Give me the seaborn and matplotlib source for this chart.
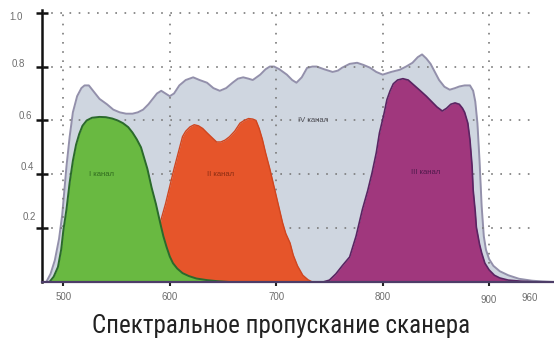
import matplotlib
matplotlib.use("Agg")
import matplotlib.pyplot as plt
from matplotlib import font_manager
import pandas as pd
import seaborn as sns

# Relative transmission of the scanner channels vs wavelength (nm)
ch4_nm = [480, 484, 488, 492, 496, 499, 503, 506, 509, 513, 517, 520, 524, 528, 534,
          541, 547, 553, 559, 565, 570, 575, 580, 584, 588, 592, 596, 600, 604, 609,
          615, 622, 628, 635, 641, 647, 653, 659, 664, 669, 674, 678, 685, 690, 694,
          698, 703, 710, 715, 719, 724, 729, 734, 738, 745, 753, 758, 762, 769, 776,
          782, 788, 794, 800, 808, 816, 822, 828, 833, 837, 841, 845, 849, 853, 858,
          863, 868, 872, 877, 882, 885, 887, 889, 891, 893, 895, 897, 900, 904, 910,
          918, 928, 940, 950, 960]
ch4_t = [0.0, 0.0, 0.03, 0.08, 0.16, 0.25, 0.43, 0.54, 0.63, 0.69, 0.72, 0.73, 0.73, 0.71, 0.68,
         0.66, 0.64, 0.63, 0.625, 0.625, 0.63, 0.64, 0.66, 0.68, 0.70, 0.71, 0.70, 0.69, 0.70, 0.73,
         0.75, 0.76, 0.75, 0.74, 0.72, 0.71, 0.72, 0.74, 0.755, 0.76, 0.755, 0.75, 0.77, 0.79, 0.80,
         0.80, 0.79, 0.77, 0.75, 0.74, 0.76, 0.795, 0.80, 0.80, 0.79, 0.78, 0.785, 0.796, 0.81, 0.814,
         0.806, 0.796, 0.78, 0.77, 0.78, 0.788, 0.80, 0.814, 0.835, 0.845, 0.83, 0.81, 0.78, 0.75, 0.725,
         0.714, 0.72, 0.726, 0.73, 0.73, 0.71, 0.67, 0.59, 0.45, 0.28, 0.17, 0.12, 0.085, 0.06, 0.04,
         0.025, 0.012, 0.005, 0.002, 0.0]

ch1_nm = [480, 487, 491, 495, 498, 500, 503, 506, 509, 512, 515, 518, 522, 527, 534,
          540, 546, 551, 556, 561, 565, 569, 573, 576, 579, 583, 587, 591, 594, 597,
          600, 603, 607, 612, 618, 625, 635, 645, 656]
ch1_t = [0.0, 0.0, 0.02, 0.056, 0.12, 0.19, 0.27, 0.37, 0.45, 0.51, 0.55, 0.58, 0.60, 0.61, 0.613,
         0.612, 0.607, 0.60, 0.59, 0.575, 0.555, 0.53, 0.50, 0.46, 0.42, 0.35, 0.29, 0.22, 0.17, 0.13,
         0.095, 0.07, 0.05, 0.033, 0.022, 0.013, 0.007, 0.003, 0.0]

ch2_nm = [565, 572, 578, 583, 587, 591, 596, 600, 604, 607, 610, 612, 615, 619, 623,
          627, 631, 635, 640, 644, 648, 652, 656, 661, 666, 670, 674, 678, 681, 684,
          687, 690, 694, 697, 700, 703, 706, 709, 713, 716, 720, 725, 730, 734]
ch2_t = [0.0, 0.02, 0.05, 0.10, 0.15, 0.22, 0.29, 0.355, 0.42, 0.465, 0.51, 0.54, 0.56, 0.576, 0.584,
         0.58, 0.57, 0.554, 0.535, 0.52, 0.52, 0.527, 0.539, 0.56, 0.59, 0.60, 0.607, 0.605, 0.60, 0.57,
         0.53, 0.48, 0.42, 0.37, 0.32, 0.27, 0.22, 0.18, 0.145, 0.10, 0.06, 0.025, 0.008, 0.0]

ch3_nm = [740, 744, 750, 756, 762, 769, 775, 781, 786, 790, 794, 797, 801, 804, 807,
          810, 814, 819, 824, 828, 834, 841, 846, 851, 856, 860, 864, 868, 872, 875,
          877, 880, 882, 884, 885, 887, 888, 891, 893, 896, 900, 905, 910, 918, 930, 945]
ch3_t = [0.0, 0.0, 0.007, 0.03, 0.06, 0.093, 0.17, 0.27, 0.34, 0.405, 0.48, 0.554, 0.62, 0.677, 0.71,
         0.736, 0.75, 0.755, 0.75, 0.736, 0.715, 0.69, 0.67, 0.65, 0.635, 0.645, 0.66, 0.665, 0.66, 0.645,
         0.63, 0.59, 0.528, 0.43, 0.342, 0.26, 0.204, 0.14, 0.108, 0.07, 0.045, 0.025, 0.015, 0.007, 0.003, 0.0]

channel_names = ["I канал", "II канал", "III канал", "IV канал"]

y_ticks = [0.2, 0.4, 0.6, 0.8, 1.0]
y_tick_labels = ["0.2", "0.4", "0.6", "0.8", "1.0"]
x_ticks = [500, 600, 700, 800, 900]
x_tick_labels = ["500", "600", "700", "800", "900"]
x_end = 960
x_end_label = "960"
title = "Спектральное пропускание сканера"

# ---- styling ----
sns.set_theme(style="white")
plt.rcParams["font.family"] = ["Liberation Sans", "DejaVu Sans"]

# narrow face for the caption if one is installed, else regular sans at a smaller size
title_font = dict(family=["Liberation Sans", "DejaVu Sans"], fontsize=16)
_narrow = [f for f in font_manager.fontManager.ttflist
           if f.stretch in ("condensed", "semi-condensed", "extra-condensed")
           and f.style == "normal" and f.weight in (400, "normal", "regular")
           and "Mono" not in f.name and "Serif" not in f.name]
_prefer = ["Liberation Sans Narrow", "Roboto Condensed", "Open Sans Condensed",
           "Noto Sans", "DejaVu Sans Condensed", "DejaVu Sans"]
_narrow.sort(key=lambda f: _prefer.index(f.name) if f.name in _prefer else 99)
if _narrow:
    title_font = dict(family=[_narrow[0].name, "DejaVu Sans"], fontstretch=_narrow[0].stretch,
                      fontsize=18)

styles = {
    "IV канал": dict(fill="#cfd6e0", edge="#9390ab", lw=1.4, z=1, text="#4a4a52", pos=(735, 0.60)),
    "II канал": dict(fill="#e6552a", edge="#cf4620", lw=1.0, z=3, text="#8a2c12", pos=(648, 0.40)),
    "III канал": dict(fill="#a0377d", edge="#5a2462", lw=1.2, z=3, text="#4e1a4b", pos=(840, 0.405)),
    "I канал": dict(fill="#69b941", edge="#2b6a2c", lw=1.4, z=4, text="#2f6a1e", pos=(536, 0.40)),
}

frames = []
for name, nm, t in [("I канал", ch1_nm, ch1_t), ("II канал", ch2_nm, ch2_t),
                    ("III канал", ch3_nm, ch3_t), ("IV канал", ch4_nm, ch4_t)]:
    frames.append(pd.DataFrame({"nm": nm, "t": t, "channel": name}))
df = pd.concat(frames, ignore_index=True)

fig = plt.figure(figsize=(5.54, 3.43), dpi=100)
ax = fig.add_axes([42 / 554, 61 / 343, 511 / 554, 272 / 343])

for name in ["IV канал", "II канал", "III канал", "I канал"]:
    st = styles[name]
    sub = df[df["channel"] == name]
    ax.fill_between(sub["nm"], 0, sub["t"], color=st["fill"], lw=0, zorder=st["z"])
    sns.lineplot(data=sub, x="nm", y="t", color=st["edge"], lw=st["lw"], sort=False,
                 estimator=None, ax=ax, zorder=st["z"] + 0.1, legend=False)
    ax.text(st["pos"][0], st["pos"][1], name, color=st["text"], fontsize=5.5,
            ha="center", va="center", zorder=6)

# dotted grid
dots = dict(color="#7a7a7a", lw=1.2, linestyles=(0, (1, 4.5)), zorder=2)
ax.hlines(y_ticks, 480, 943, **dots)
ax.vlines(x_ticks, 0, 1.0, **dots)

ax.set_xlim(480, x_end)
ax.set_ylim(0, 1.01)
ax.set_xlabel("")
ax.set_ylabel("")
for s in ["top", "right"]:
    ax.spines[s].set_visible(False)
ax.spines["left"].set_color("#111111")
ax.spines["left"].set_linewidth(1.8)
ax.spines["bottom"].set_color("#4d3d68")
ax.spines["bottom"].set_linewidth(1.6)
ax.spines["left"].set_zorder(7)
ax.spines["bottom"].set_zorder(7)

ax.set_yticks(y_ticks)
ax.set_xticks(x_ticks)
ax.tick_params(axis="y", direction="inout", length=8, width=1.8, color="#111111",
               labelleft=False, left=True)
ax.tick_params(axis="x", direction="inout", length=6, width=1.5, color="#222222",
               labelbottom=False, bottom=True)

lab = dict(fontsize=7, color="#6e6e6e", annotation_clip=False)
y_offsets = {"1.0": (-19, -4), "0.8": (-17, 3), "0.6": (-10, 4), "0.4": (-8, 7), "0.2": (-6, 11)}
for v, s in zip(y_ticks, y_tick_labels):
    ax.annotate(s, xy=(0, v), xycoords=ax.get_yaxis_transform(), xytext=y_offsets[s],
                textcoords="offset pixels", ha="right", va="center", **lab)
x_drop = {"900": -18}
for v, s in zip(x_ticks, x_tick_labels):
    ax.annotate(s, xy=(v, 0), xycoords=ax.get_xaxis_transform(), xytext=(0, x_drop.get(s, -15)),
                textcoords="offset pixels", ha="center", va="center", **lab)
ax.annotate(x_end_label, xy=(x_end, 0), xycoords=ax.get_xaxis_transform(), xytext=(-23, -16),
            textcoords="offset pixels", ha="center", va="center", **lab)

fig.text(281 / 554, 10 / 343, title, color="#222222", ha="center", va="baseline", **title_font)

fig.savefig("out.png", dpi=100, facecolor="white")
